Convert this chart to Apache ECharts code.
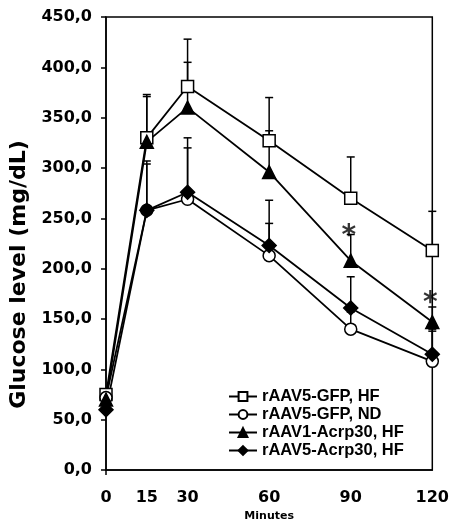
<!DOCTYPE html>
<html>
<head>
<meta charset="utf-8">
<script src="https://cdn.jsdelivr.net/npm/echarts@6/dist/echarts.min.js"></script>
<style>
  html, body { margin: 0; padding: 0; background: #fff; }
  #chart { width: 452px; height: 527px; }
</style>
</head>
<body>
<div id="chart"></div>
<script>
// minutes after glucose injection
const minutes = [0, 15, 30, 60, 90, 120];
const xTicks = [0, 15, 30, 60, 90, 120];

// mean glucose level (mg/dL)
const gfpHF = [75, 330, 381, 327, 270, 218];
const gfpND = [72, 258, 269, 213, 140, 108];
const acrp1HF = [70, 326, 360, 296, 208, 147];
const acrp5HF = [60, 258, 276, 223, 161, 115];

// top of the error bar (mean + SD)
const gfpHFTop = [80, 373, 428, 370, 311, 257];
const gfpNDTop = [76, 304, 320, 245, 157, 138];
const acrp1HFTop = [75, 371, 405, 337, 234, 162];
const acrp5HFTop = [64, 307, 330, 268, 192, 140];

// significance marks
const starX = [90, 120];
const starY = [241, 174];

const names = ['rAAV5-GFP, HF', 'rAAV5-GFP, ND', 'rAAV1-Acrp30, HF', 'rAAV5-Acrp30, HF'];

const pairs = (ys) => minutes.map((m, i) => [m, ys[i]]);

function errorSeries(means, tops) {
  return {
    type: 'custom',
    silent: true,
    z: 1,
    data: minutes.map((m, i) => [m, means[i], tops[i]]),
    renderItem: function (params, api) {
      const base = api.coord([api.value(0), api.value(1)]);
      const top = api.coord([api.value(0), api.value(2)]);
      const w = 4;
      const style = { stroke: '#000', lineWidth: 1.5 };
      return {
        type: 'group',
        children: [
          { type: 'line', shape: { x1: base[0], y1: base[1], x2: top[0], y2: top[1] }, style: style },
          { type: 'line', shape: { x1: top[0] - w, y1: top[1], x2: top[0] + w, y2: top[1] }, style: style }
        ]
      };
    }
  };
}

function lineSeries(name, ys, symbol, size, fill) {
  return {
    name: name,
    type: 'line',
    z: 3,
    data: pairs(ys),
    symbol: symbol,
    symbolSize: size,
    showAllSymbol: true,
    lineStyle: { color: '#000', width: 1.8 },
    itemStyle: { color: fill, borderColor: '#000', borderWidth: 1.5 }
  };
}

const chart = echarts.init(document.getElementById('chart'));
chart.setOption({
  animation: false,
  grid: { left: 106, right: 16, top: 17, bottom: 44, show: true, borderColor: '#000', borderWidth: 1.5 },
  xAxis: {
    type: 'value',
    min: 0,
    max: 120,
    name: 'Minutes',
    nameLocation: 'middle',
    nameGap: 39,
    nameTextStyle: { fontFamily: 'DejaVu Sans', fontWeight: 'bold', fontSize: 11, color: '#000' },
    axisLine: { lineStyle: { color: '#000', width: 1.5 } },
    axisTick: { show: true, customValues: [0], length: 5, lineStyle: { color: '#000', width: 1.5 } },
    axisLabel: {
      customValues: xTicks,
      margin: 20,
      fontFamily: 'DejaVu Sans',
      fontWeight: 'bold',
      fontSize: 16,
      color: '#000'
    },
    splitLine: { show: false }
  },
  yAxis: {
    type: 'value',
    min: 0,
    max: 450,
    interval: 50,
    name: 'Glucose level (mg/dL)',
    nameLocation: 'middle',
    nameGap: 71,
    nameTextStyle: {
      fontFamily: 'DejaVu Sans',
      fontWeight: 'bold',
      fontSize: 22,
      color: '#000',
      padding: [0, 62, 0, 0]
    },
    axisLine: { show: true, lineStyle: { color: '#000', width: 1.5 } },
    axisTick: { show: true, length: 5, lineStyle: { color: '#000', width: 1.5 } },
    axisLabel: {
      margin: 14,
      fontFamily: 'DejaVu Sans',
      fontWeight: 'bold',
      fontSize: 16,
      color: '#000',
      formatter: (v) => v.toFixed(1).replace('.', ',')
    },
    splitLine: { show: false }
  },
  legend: {
    data: names,
    orient: 'vertical',
    left: 228,
    top: 388,
    itemWidth: 28,
    itemHeight: 11,
    itemGap: 1,
    padding: 0,
    textStyle: { fontFamily: 'Liberation Sans', fontWeight: 'bold', fontSize: 16.5, color: '#000' }
  },
  series: [
    errorSeries(gfpHF, gfpHFTop),
    errorSeries(gfpND, gfpNDTop),
    errorSeries(acrp1HF, acrp1HFTop),
    errorSeries(acrp5HF, acrp5HFTop),
    lineSeries(names[0], gfpHF, 'rect', 12, '#fff'),
    lineSeries(names[1], gfpND, 'circle', 12, '#fff'),
    lineSeries(names[2], acrp1HF, 'triangle', 13, '#000'),
    lineSeries(names[3], acrp5HF, 'diamond', 14, '#000'),
    {
      type: 'scatter',
      silent: true,
      z: 4,
      symbolSize: 0,
      data: starX.map((x, i) => [x, starY[i]]),
      label: {
        show: true,
        position: 'inside',
        offset: [-2, 9],
        formatter: '*',
        fontFamily: 'DejaVu Sans',
        fontWeight: 'bold',
        fontSize: 28,
        color: '#000'
      }
    }
  ]
});
</script>
</body>
</html>
